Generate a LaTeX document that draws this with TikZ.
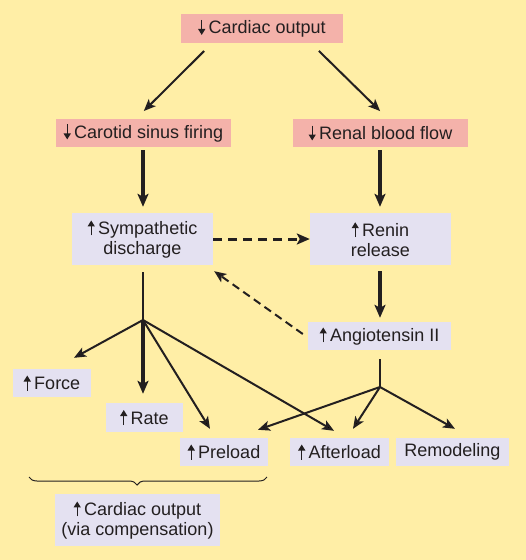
\documentclass[tikz,border=0pt]{standalone}
\usepackage{fontspec}
\setmainfont{Liberation Sans}
\usetikzlibrary{arrows.meta,decorations.pathreplacing}
\definecolor{bgyel}{RGB}{255,238,166}
\definecolor{pinkbox}{RGB}{244,178,170}
\definecolor{lavbox}{RGB}{228,225,241}
\definecolor{ink}{RGB}{35,31,32}
\newcommand\uparr{\tikz[baseline=0pt]\draw[ink,line width=1.3pt,-{Triangle[length=6pt,width=7pt]}] (0pt,-1pt)--(0pt,14pt);\hspace{3.5pt}}
\newcommand\dnarr{\tikz[baseline=0pt]\draw[ink,line width=1.3pt,-{Triangle[length=6pt,width=7pt]}] (0pt,14pt)--(0pt,-1pt);\hspace{3.5pt}}
\tikzset{
  box/.style={inner sep=0pt,align=center,text=ink,font=\fontsize{18}{20}\selectfont},
  pbox/.style={box,fill=pinkbox},
  lbox/.style={box,fill=lavbox},
  arr/.style={draw=ink,line width=2pt,-{Stealth[length=12pt,width=10pt,inset=3pt]}},
  tarr/.style={draw=ink,line width=3.3pt,-{Stealth[length=13pt,width=11pt,inset=3pt]}},
  ln/.style={draw=ink,line width=2pt},
}
\begin{document}
\begin{tikzpicture}[x=1pt,y=-1pt]
\fill[bgyel] (0,0) rectangle (526,560);
\useasboundingbox (0,0) rectangle (526,560);
% nodes
\node[pbox,minimum width=162pt,minimum height=29pt] (co) at (262,28.5) {\dnarr Cardiac output};
\node[pbox,minimum width=175pt,minimum height=28pt] (cs) at (143.5,133) {\dnarr Carotid sinus firing};
\node[pbox,minimum width=175pt,minimum height=28pt] (rb) at (380.5,133) {\dnarr Renal blood flow};
\node[lbox,minimum width=141pt,minimum height=52pt] (sd) at (142.5,239) {\uparr Sympathetic\\discharge};
\node[lbox,minimum width=141pt,minimum height=52pt] (rr) at (380.5,239) {\uparr Renin\\release};
\node[lbox,minimum width=143pt,minimum height=28pt] (an) at (379.5,336) {\uparr Angiotensin II};
\node[lbox,minimum width=78pt,minimum height=28pt] (fo) at (52,383) {\uparr Force};
\node[lbox,minimum width=77pt,minimum height=29pt] (ra) at (144.5,417.5) {\uparr Rate};
\node[lbox,minimum width=88pt,minimum height=28pt] (pl) at (224,452) {\uparr Preload};
\node[lbox,minimum width=99pt,minimum height=28pt] (af) at (339.5,452) {\uparr Afterload};
\node[lbox,minimum width=113pt,minimum height=28pt] (rm) at (452.5,452) {Remodeling};
\node[lbox,minimum width=165pt,minimum height=52pt] (cc) at (137.5,520) {\uparr Cardiac output\\(via compensation)};
% junctions
\coordinate (j1) at (143,320);
\coordinate (j2) at (380,387);
% connectors
\draw[arr,shorten <=11pt,shorten >=11pt] ([xshift=-50pt]co.south) -- ([xshift=-7.5pt]cs.north);
\draw[arr,shorten <=11pt,shorten >=11pt] ([xshift=49pt]co.south) -- ([xshift=7.5pt]rb.north);
\draw[tarr,shorten <=3pt,shorten >=6pt] ([xshift=-0.5pt]cs.south) -- ([xshift=0.5pt]sd.north);
\draw[tarr,shorten <=3pt,shorten >=6pt] ([xshift=-0.5pt]rb.south) -- ([xshift=-0.5pt]rr.north);
\draw[draw=ink,line width=3pt,dash pattern=on 9pt off 6pt,-{Stealth[length=13pt,width=11pt,inset=3pt]}] (sd.east) -- (rr.west);
\draw[draw=ink,line width=2pt,dash pattern=on 8pt off 5pt,-{Stealth[length=12pt,width=10pt,inset=3pt]}] ([xshift=-5pt,yshift=2pt]an.west) -- ([xshift=1pt,yshift=-6pt]sd.south east);
\draw[tarr,shorten <=6pt,shorten >=4pt] ([xshift=-0.5pt]rr.south) -- ([xshift=0.5pt]an.north);
\draw[ln,shorten <=7pt] ([xshift=0.5pt]sd.south) -- (j1);
\draw[arr] (j1) -- ([xshift=22pt,yshift=11pt]fo.north);
\draw[tarr] (j1) -- ([xshift=-1.5pt,yshift=9pt]ra.north);
\draw[arr] (j1) -- ([xshift=-14pt,yshift=9pt]pl.north);
\draw[arr] (j1) -- ([xshift=-5.5pt,yshift=7pt]af.north);
\draw[ln,shorten <=9pt] ([xshift=0.5pt]an.south) -- (j2);
\draw[arr] (j2) -- ([xshift=34pt,yshift=8pt]pl.north);
\draw[arr] (j2) -- ([xshift=13.5pt,yshift=9pt]af.north);
\draw[arr] (j2) -- ([xshift=2.5pt,yshift=9pt]rm.north);
% brace
\draw[ink,line width=1pt,decorate,decoration={brace,mirror,amplitude=8pt,aspect=0.454}] (29,477) -- (267,477);
\end{tikzpicture}
\end{document}
